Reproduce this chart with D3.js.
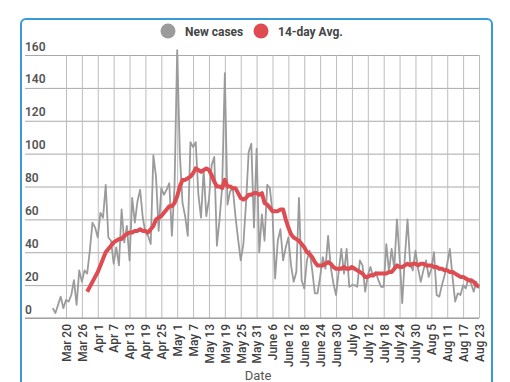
<!DOCTYPE html>
<html>
<head>
<meta charset="utf-8">
<title>New cases and 14-day average</title>
<style>
  body { margin: 0; background: #fff; }
  #chart { position: absolute; left: 0; top: 0; }
  text { font-family: Roboto, "Noto Sans", sans-serif; }
</style>
</head>
<body>
<div id="chart"></div>
<script src="https://cdn.jsdelivr.net/npm/d3@7/dist/d3.min.js"></script>
<script>
// daily new cases, Mar 15 .. Aug 23
const casesStart = new Date(2020, 2, 15);
const newCases = [
  6, 3, 8, 13, 6, 11, 10, 14, 23, 8, 29, 22, 29, 27, 41, 58, 55,
  49, 64, 61, 81, 49, 47, 33, 43, 32, 66, 46, 56, 35, 73, 58, 71, 78, 61, 52, 50, 45, 99, 86, 53, 79, 75, 78, 82, 50, 80,
  163, 100, 70, 62, 50, 107, 104, 107, 75, 61, 90, 62, 72, 93, 98, 44, 60, 80, 149, 69, 77, 79, 62, 48, 35, 45, 70, 101, 106, 55, 103,
  40, 63, 47, 81, 79, 64, 24, 47, 54, 35, 43, 49, 32, 22, 28, 73, 23, 18, 35, 41, 29, 15, 15, 25, 37, 30, 50, 31, 21, 14,
  28, 42, 27, 42, 19, 20, 20, 19, 35, 32, 16, 26, 31, 25, 28, 23, 19, 19, 45, 28, 42, 30, 60, 37, 9, 37, 60, 33, 29, 41, 30,
  22, 29, 35, 25, 30, 40, 14, 13, 20, 26, 33, 42, 25, 10, 15, 14, 20, 18, 24, 21, 16, 22, 18
];

// 14-day average, Mar 28 .. Aug 23
const avgStart = new Date(2020, 2, 28);
const avg14 = [
  16, 19, 22, 25,
  28, 32, 36, 40, 42, 44, 46, 47, 48, 48, 50, 51, 52, 52, 53, 53, 54, 53, 53, 52, 54, 56, 60, 61, 62, 64, 66, 68, 68, 70,
  74, 80, 84, 84, 85, 86, 88, 91, 90, 89, 90, 91, 90, 87, 83, 80, 80, 79, 84, 80, 80, 79, 79, 76, 73, 72, 73, 75, 75, 76, 76,
  75, 76, 70, 69, 67, 65, 65, 65, 66, 66, 60, 55, 51, 49, 48, 47, 45, 43, 40, 39, 37, 34, 32, 32, 32, 33, 34, 33, 31, 30,
  30, 30, 31, 30, 30, 31, 30, 29, 28, 27, 25, 25, 26, 26, 27, 27, 27, 27, 27, 28, 28, 30, 32, 31, 31, 32, 33, 32, 33, 33, 32,
  33, 33, 32, 32, 32, 31, 31, 30, 30, 29, 29, 28, 28, 27, 26, 25, 25, 24, 23, 23, 22, 20, 19
];

const tickStart = new Date(2020, 2, 20);
const tickLabels = [
  'Mar 20', 'Mar 26', 'Apr 1', 'Apr 7', 'Apr 13', 'Apr 19', 'Apr 25', 'May 1', 'May 7',
  'May 13', 'May 19', 'May 25', 'May 31', 'June 6', 'June 12', 'June 18', 'June 24', 'June 30',
  'July 6', 'July 12', 'July 18', 'July 24', 'July 30', 'Aug 5', 'Aug 11', 'Aug 17', 'Aug 23'
];
const yTicks = [0, 20, 40, 60, 80, 100, 120, 140, 160];

const seriesNames = ['New cases', '14-day Avg.'];
const seriesColors = ['#9b9b9b', '#de4b50'];

const W = 510, H = 382;
const plotLeft = 25, plotRight = 479, plotTop = 55, plotBottom = 318;

const svg = d3.select('#chart').append('svg')
  .attr('width', W)
  .attr('height', H);

// card border
svg.append('rect')
  .attr('x', 21).attr('y', 19)
  .attr('width', 471).attr('height', 420)
  .attr('rx', 5)
  .attr('fill', 'none')
  .attr('stroke', '#3a9ad9')
  .attr('stroke-width', 2);

const tickDates = tickLabels.map((d, i) => d3.timeDay.offset(tickStart, i * 6));

const x = d3.scaleTime()
  .domain([tickDates[0], tickDates[tickDates.length - 1]])
  .range([66, plotRight]);

const y = d3.scaleLinear()
  .domain([0, 160])
  .range([plotBottom, plotTop]);

// horizontal grid + y labels
const yAxis = svg.append('g')
  .attr('transform', `translate(${plotRight},0)`)
  .call(d3.axisLeft(y).tickValues(yTicks).tickSize(plotRight - plotLeft).tickPadding(0));
yAxis.select('.domain').remove();
yAxis.selectAll('line').attr('stroke', '#a8a8a8');
yAxis.selectAll('text')
  .attr('x', -(plotRight - plotLeft))
  .attr('dy', -5)
  .attr('text-anchor', 'start')
  .attr('fill', '#555')
  .attr('font-size', 12)
  .attr('font-weight', 600);

// vertical grid + x labels
const xAxis = svg.append('g')
  .attr('transform', `translate(0,${plotBottom})`)
  .call(d3.axisBottom(x).tickValues(tickDates)
    .tickFormat((d, i) => tickLabels[i])
    .tickSize(-(plotBottom - plotTop)));
xAxis.select('.domain').remove();
xAxis.selectAll('line').attr('stroke', '#bdbdbd');
xAxis.selectAll('text')
  .attr('transform', 'rotate(-90)')
  .attr('text-anchor', 'end')
  .attr('x', -6)
  .attr('y', 0)
  .attr('dy', '0.36em')
  .attr('fill', '#3f3f3f')
  .attr('font-size', 12)
  .attr('font-weight', 500);

// baseline
svg.append('line')
  .attr('x1', plotLeft).attr('x2', plotRight)
  .attr('y1', y(0)).attr('y2', y(0))
  .attr('stroke', '#999');

const line = start => d3.line()
  .x((d, i) => x(d3.timeDay.offset(start, i)))
  .y(d => y(d));

svg.append('path')
  .datum(newCases)
  .attr('fill', 'none')
  .attr('stroke', seriesColors[0])
  .attr('stroke-width', 1.8)
  .attr('stroke-linejoin', 'round')
  .attr('d', line(casesStart));

svg.append('path')
  .datum(avg14)
  .attr('fill', 'none')
  .attr('stroke', seriesColors[1])
  .attr('stroke-width', 4)
  .attr('stroke-linejoin', 'round')
  .attr('d', line(avgStart));

// legend
const legendX = [168, 261];
const legend = svg.append('g');
seriesNames.forEach((name, i) => {
  legend.append('circle')
    .attr('cx', legendX[i]).attr('cy', 31).attr('r', 7.5)
    .attr('fill', seriesColors[i]);
  legend.append('text')
    .attr('x', legendX[i] + 17).attr('y', 35.5)
    .attr('fill', '#444')
    .attr('font-size', 12)
    .attr('font-weight', 700)
    .text(name);
});

// axis title
svg.append('text')
  .attr('x', 258).attr('y', 380)
  .attr('text-anchor', 'middle')
  .attr('fill', '#555')
  .attr('font-size', 13)
  .text('Date');
</script>
</body>
</html>
